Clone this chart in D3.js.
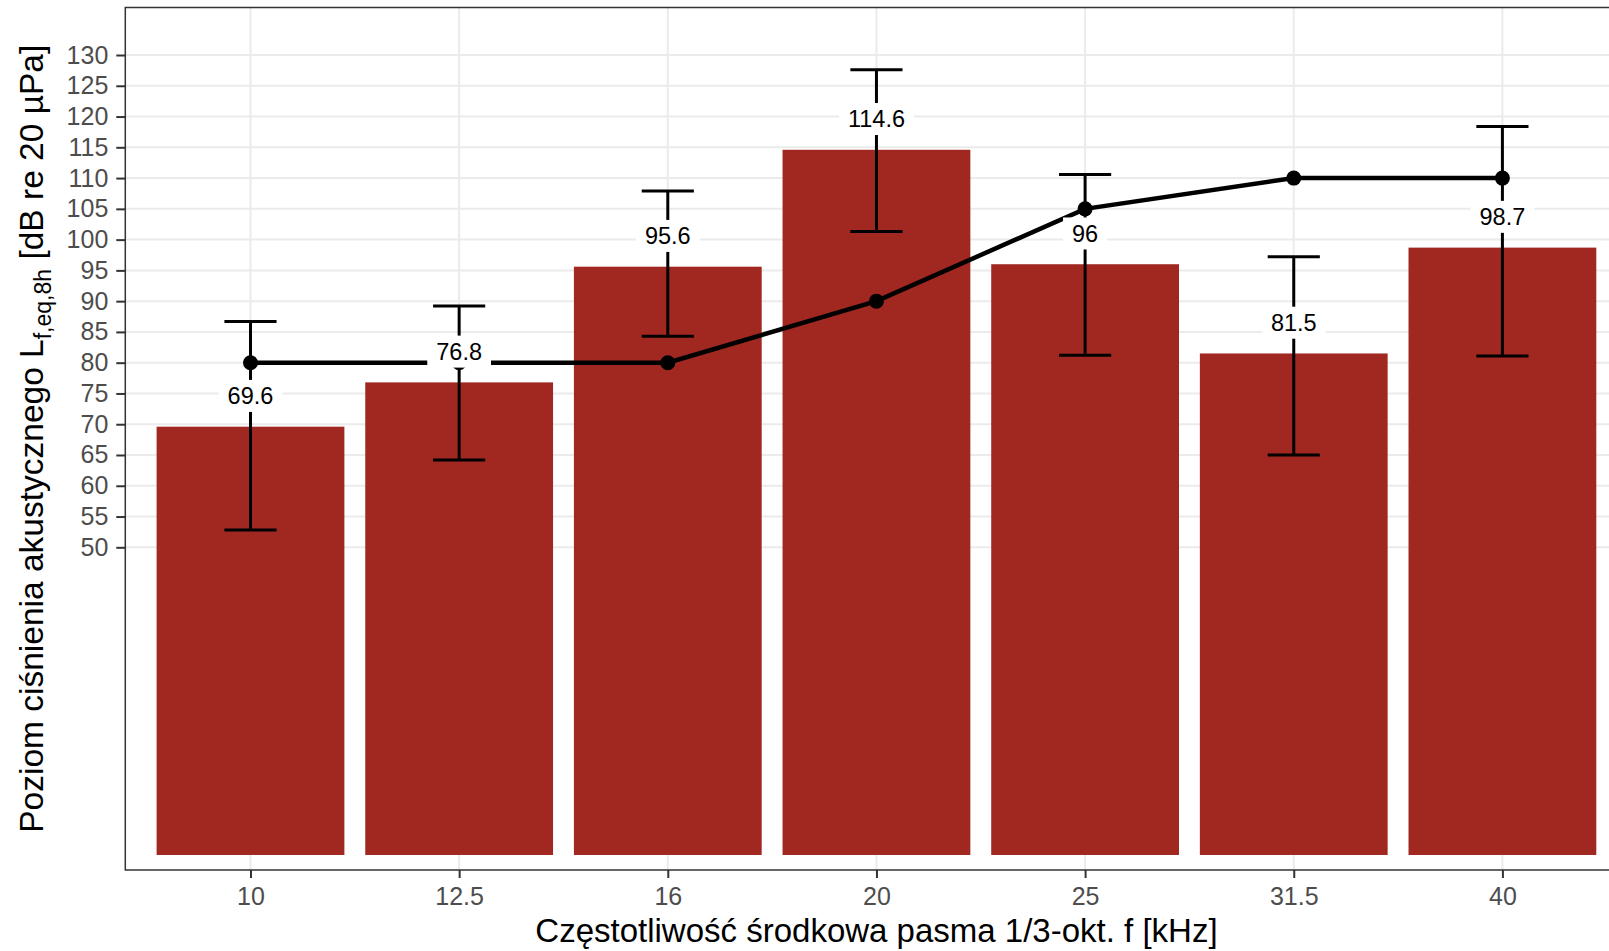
<!DOCTYPE html>
<html lang="pl">
<head>
    <meta charset="UTF-8">
    <title>Poziom ciśnienia akustycznego</title>
    <style>
        body { margin: 0; background: #fff; }
        text { font-family: "Liberation Sans", Arial, sans-serif; }
    </style>
</head>
<body>
<svg></svg>
<script src="https://d3js.org/d3.v7.min.js"></script>
<script>
    // dane
    var categories = ["10", "12.5", "16", "20", "25", "31.5", "40"];
    var measured = [69.6, 76.8, 95.6, 114.6, 96, 81.5, 98.7];
    var errLow = [52.8, 64.2, 84.3, 101.3, 81.2, 65.0, 81.1];
    var errHigh = [86.7, 89.2, 107.9, 127.6, 110.6, 97.2, 118.4];
    var limitValues = [80, 80, 80, 90, 105, 110, 110];
    var yTicks = [50, 55, 60, 65, 70, 75, 80, 85, 90, 95, 100, 105, 110, 115, 120, 125, 130];

    var width = 1609;
    var height = 951;
    var panelLeft = 125.3;
    var panelTop = 7.5;
    var panelBottom = 870;
    var panelRight = 1627.6; // panel wychodzi poza obraz (przycięty)

    var barColor = "#a02821";

    var svg = d3.select("svg")
        .attr("width", width)
        .attr("height", height);

    var x = d3.scalePoint()
        .domain(categories)
        .range([panelLeft, panelRight])
        .padding(0.6);
    var step = x.step();

    var y = d3.scaleLinear()
        .domain([-2.44, 137.72])
        .range([panelBottom, panelTop]);

    // siatka
    svg.append("g")
        .selectAll("line")
        .data(yTicks)
        .enter().append("line")
        .attr("x1", panelLeft)
        .attr("x2", panelRight)
        .attr("y1", function (d) { return y(d); })
        .attr("y2", function (d) { return y(d); })
        .style("stroke", "#ebebeb")
        .style("stroke-width", 2);

    svg.append("g")
        .selectAll("line")
        .data(categories)
        .enter().append("line")
        .attr("x1", function (d) { return x(d); })
        .attr("x2", function (d) { return x(d); })
        .attr("y1", panelTop)
        .attr("y2", panelBottom)
        .style("stroke", "#ebebeb")
        .style("stroke-width", 2);

    // słupki
    svg.append("g")
        .selectAll("rect")
        .data(measured)
        .enter().append("rect")
        .attr("x", function (d, i) { return x(categories[i]) - step * 0.45; })
        .attr("y", function (d) { return y(d); })
        .attr("width", step * 0.9)
        .attr("height", function (d) { return y(0) - y(d); })
        .style("fill", barColor);

    // słupki błędów
    var errG = svg.append("g")
        .style("stroke", "#000")
        .style("stroke-width", 3);
    var capHalf = step * 0.125;
    categories.forEach(function (c, i) {
        errG.append("line")
            .attr("x1", x(c)).attr("x2", x(c))
            .attr("y1", y(errLow[i])).attr("y2", y(errHigh[i]));
        errG.append("line")
            .attr("x1", x(c) - capHalf).attr("x2", x(c) + capHalf)
            .attr("y1", y(errLow[i])).attr("y2", y(errLow[i]));
        errG.append("line")
            .attr("x1", x(c) - capHalf).attr("x2", x(c) + capHalf)
            .attr("y1", y(errHigh[i])).attr("y2", y(errHigh[i]));
    });

    // linia wartości dopuszczalnych
    var line = d3.line()
        .x(function (d, i) { return x(categories[i]); })
        .y(function (d) { return y(d); });

    svg.append("path")
        .datum(limitValues)
        .attr("d", line)
        .style("fill", "none")
        .style("stroke", "#000")
        .style("stroke-width", 4.5);

    svg.append("g")
        .selectAll("circle")
        .data(limitValues)
        .enter().append("circle")
        .attr("cx", function (d, i) { return x(categories[i]); })
        .attr("cy", function (d) { return y(d); })
        .attr("r", 7.5)
        .style("fill", "#000");

    // etykiety wartości
    var labels = svg.append("g")
        .selectAll("g")
        .data(measured)
        .enter().append("g")
        .attr("transform", function (d, i) {
            return "translate(" + x(categories[i]) + "," + y(d + 5) + ")";
        });

    labels.append("text")
        .attr("text-anchor", "middle")
        .attr("dy", "0.36em")
        .style("font-size", "23.5px")
        .style("fill", "#000")
        .text(function (d) { return d; })
        .each(function () {
            var w = this.getComputedTextLength();
            d3.select(this.parentNode).insert("rect", "text")
                .attr("x", -w / 2 - 9)
                .attr("y", -16)
                .attr("width", w + 18)
                .attr("height", 32)
                .style("fill", "#fff");
        });

    // osie
    var yAxis = svg.append("g")
        .attr("transform", "translate(" + panelLeft + ",0)")
        .call(d3.axisLeft(y).tickValues(yTicks).tickSize(9).tickSizeOuter(0).tickPadding(8));
    yAxis.select(".domain").remove();
    yAxis.selectAll(".tick line").style("stroke", "#333").style("stroke-width", 2);
    yAxis.selectAll(".tick text")
        .style("font-size", "25px")
        .style("font-family", "Liberation Sans, Arial, sans-serif")
        .style("fill", "#4d4d4d");

    var xAxis = svg.append("g")
        .attr("transform", "translate(0," + panelBottom + ")")
        .call(d3.axisBottom(x).tickSize(8).tickSizeOuter(0).tickPadding(9));
    xAxis.select(".domain").remove();
    xAxis.selectAll(".tick line").style("stroke", "#333").style("stroke-width", 2);
    xAxis.selectAll(".tick text")
        .style("font-size", "25px")
        .style("font-family", "Liberation Sans, Arial, sans-serif")
        .style("fill", "#4d4d4d");

    // ramka panelu
    svg.append("rect")
        .attr("x", panelLeft)
        .attr("y", panelTop)
        .attr("width", panelRight - panelLeft)
        .attr("height", panelBottom - panelTop)
        .style("fill", "none")
        .style("stroke", "#333")
        .style("stroke-width", 1.5);

    // tytuły osi
    svg.append("text")
        .attr("x", (panelLeft + panelRight) / 2)
        .attr("y", 942)
        .attr("text-anchor", "middle")
        .style("font-size", "33px")
        .style("fill", "#000")
        .text("Częstotliwość środkowa pasma 1/3-okt. f [kHz]");

    var yTitle = svg.append("text")
        .attr("transform", "translate(43," + ((panelTop + panelBottom) / 2) + ") rotate(-90)")
        .attr("text-anchor", "middle")
        .style("font-size", "33.5px")
        .style("fill", "#000");
    yTitle.append("tspan").text("Poziom ciśnienia akustycznego L");
    yTitle.append("tspan")
        .attr("dy", 8)
        .style("font-size", "23px")
        .text("f,eq,8h");
    yTitle.append("tspan")
        .attr("dy", -8)
        .text(" [dB re 20 µPa]");
</script>
</body>
</html>
